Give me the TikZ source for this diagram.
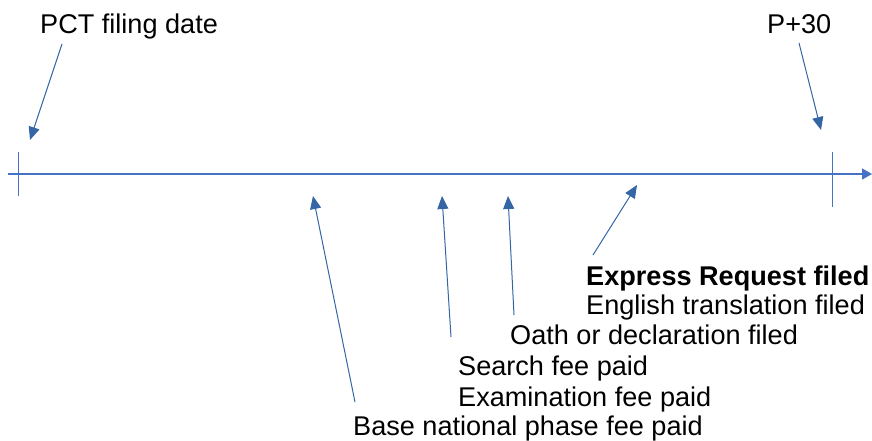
\documentclass[tikz,border=0pt]{standalone}
\usepackage{fontspec}
\setmainfont{Liberation Sans}
\usetikzlibrary{arrows.meta}
\definecolor{lineblue}{RGB}{68,114,196}
\definecolor{arrowblue}{RGB}{52,101,164}

\begin{document}
\begin{tikzpicture}[x=1pt,y=-1pt,
  label/.style={anchor=base west,inner sep=0pt,font=\fontsize{27.1}{30}\selectfont},
  pointer/.style={arrowblue,line width=1pt,-{Triangle[length=13pt,width=11pt]}},
  tick/.style={lineblue,line width=1.2pt}]
\useasboundingbox (0,0) rectangle (872,440);

\coordinate (start) at (8,174);
\coordinate (end) at (872,174);
\draw[lineblue,line width=1.2pt,-{Triangle[length=10pt,width=11pt]}] (start) -- (end);
\draw[tick] (18.5,152) -- (18.5,196);
\draw[tick] (832.5,152) -- (832.5,207);

\node[label] (pct) at (40,33) {PCT filing date};
\node[label] (p30) at (767,33) {P+30};
\node[label,font=\fontsize{27.1}{30}\selectfont\bfseries] (express) at (586,285) {Express Request filed};
\node[label] (english) at (586,314) {English translation filed};
\node[label] (oath) at (510,344) {Oath or declaration filed};
\node[label] (search) at (458,375) {Search fee paid};
\node[label] (exam) at (458,406) {Examination fee paid};
\node[label] (base) at (353,435) {Base national phase fee paid};

\coordinate (pct tail) at (62,44);
\coordinate (pct tip) at (30,140);
\coordinate (p30 tail) at (799,43);
\coordinate (p30 tip) at (821,130);
\coordinate (base tail) at (355,402);
\coordinate (base tip) at (313,196);
\coordinate (search tail) at (451,337);
\coordinate (search tip) at (442,196);
\coordinate (oath tail) at (514,315);
\coordinate (oath tip) at (508,196);
\coordinate (express tail) at (593,255);
\coordinate (express tip) at (637,185);

\draw[pointer] (pct tail) -- (pct tip);
\draw[pointer] (p30 tail) -- (p30 tip);
\draw[pointer] (base tail) -- (base tip);
\draw[pointer] (search tail) -- (search tip);
\draw[pointer] (oath tail) -- (oath tip);
\draw[pointer] (express tail) -- (express tip);
\end{tikzpicture}
\end{document}
